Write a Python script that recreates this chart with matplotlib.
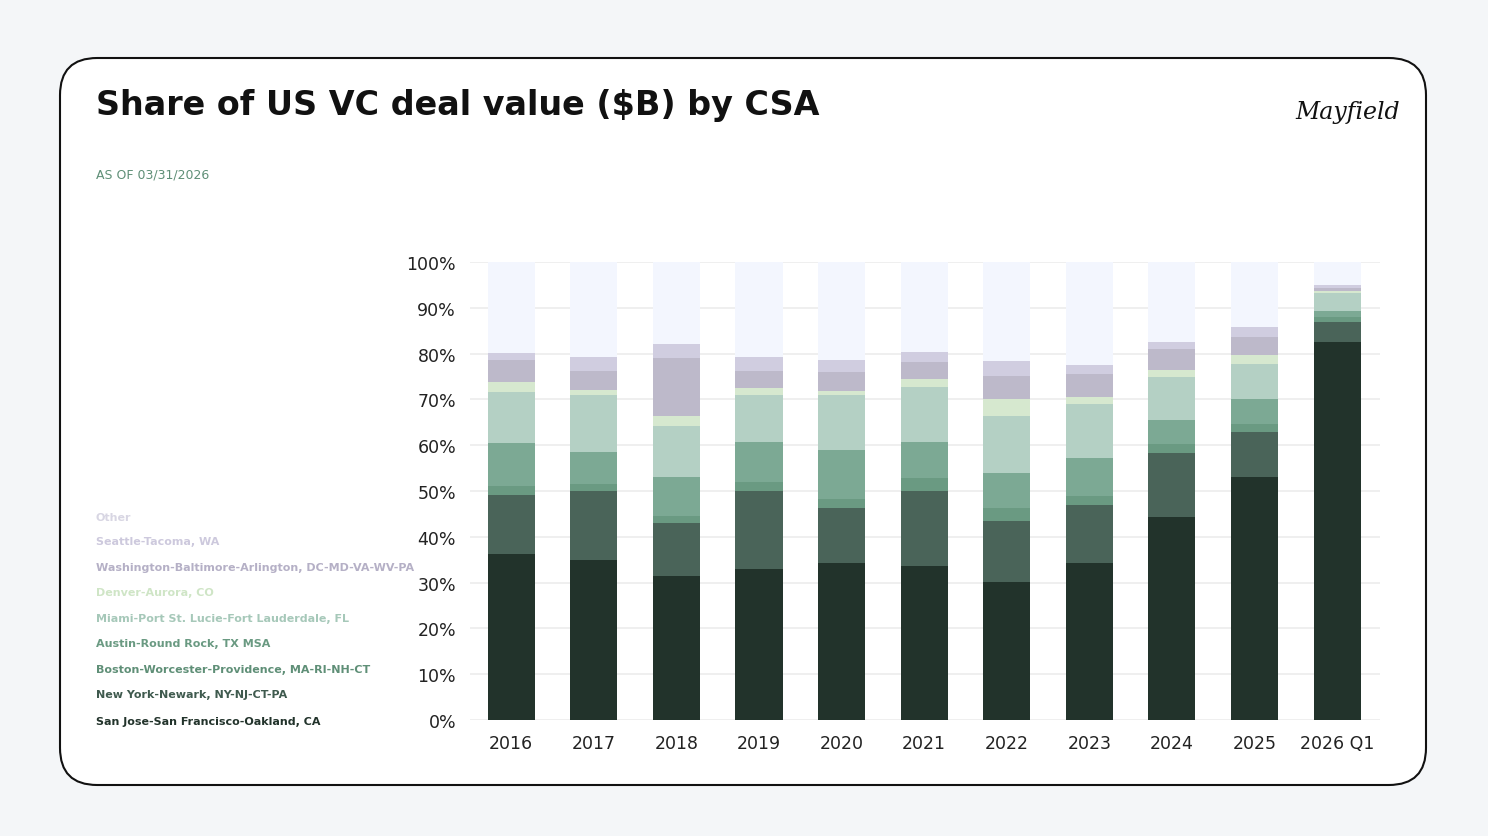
import matplotlib
matplotlib.use("Agg")
import matplotlib.pyplot as plt
from matplotlib.patches import FancyBboxPatch
import numpy as np

years = ["2016","2017","2018","2019","2020","2021","2022","2023","2024","2025","2026 Q1"]
series = ["San Jose-San Francisco-Oakland, CA","New York-Newark, NY-NJ-CT-PA",
          "Boston-Worcester-Providence, MA-RI-NH-CT","Austin-Round Rock, TX MSA",
          "Miami-Port St. Lucie-Fort Lauderdale, FL","Denver-Aurora, CO",
          "Washington-Baltimore-Arlington, DC-MD-VA-WV-PA","Seattle-Tacoma, WA","Other"]
sj    = [36.2,34.9,31.4,33.0,34.3,33.6,30.1,34.3,44.3,53.0,82.6]
ny    = [13.0,15.2,11.6,16.9,11.9,16.3,13.4,12.6,13.9,9.9,4.2]
bos   = [1.8,1.4,1.5,2.1,2.1,2.9,2.7,1.9,2.1,1.8,1.1]
aus   = [9.5,7.1,8.6,8.6,10.7,8.0,7.8,8.5,5.1,5.4,1.4]
mia   = [11.2,12.4,11.2,10.4,12.0,11.9,12.4,11.8,9.4,7.6,4.0]
den   = [2.0,1.1,2.0,1.5,0.9,1.7,3.6,1.4,1.6,2.0,0.4]
was   = [4.8,4.0,12.7,3.8,4.1,3.8,5.1,5.1,4.6,4.0,0.6]
sea   = [1.6,3.2,3.2,3.0,2.7,2.1,3.2,1.9,1.6,2.2,0.7]
other = [19.9,20.7,17.8,20.7,21.3,19.7,21.7,22.5,17.4,14.1,5.0]
data = [sj,ny,bos,aus,mia,den,was,sea,other]
colors = ["#22332b","#4a6459","#6a9a82","#7ca994","#b4d0c4","#d6e8cf","#bdb9ca","#d0cde0","#f3f6fe"]
legend_colors = ["#22332b","#3f5a4e","#5f8f77","#6a9a82","#a6c8b9","#cfe5c6","#b5b0c6","#cdc9dd","#d8d6e3"]

fig = plt.figure(figsize=(14.88,8.37), dpi=100)
fig.patch.set_facecolor("#f4f6f8")
card = FancyBboxPatch((60/1488, 1-786/837), 1366/1488, 727/837,
                      boxstyle="round,pad=0,rounding_size=0.025", transform=fig.transFigure,
                      facecolor="white", edgecolor="#111111", linewidth=1.5,
                      mutation_aspect=1488/837, zorder=-10)
fig.patches.append(card)

fig.text(96/1488, 1-105/837, "Share of US VC deal value ($B) by CSA", fontsize=24,
         fontweight="bold", va="center", ha="left", color="#111111")
fig.text(96/1488, 1-175/837, "AS OF 03/31/2026", fontsize=9, color="#5f8f77", va="center")
fig.text(1400/1488, 1-113/837, "Mayfield", fontsize=17, style="italic", family="DejaVu Serif",
         ha="right", va="center", color="#111111")

ax = fig.add_axes([470/1488, 1-721/837, 910/1488, 458/837])
ax.set_zorder(1)
ax.patch.set_alpha(0)
x = np.arange(len(years))
bottom = np.zeros(len(years))
for vals, c in zip(data, colors):
    ax.bar(x, vals, bottom=bottom, width=0.57, color=c, zorder=3)
    bottom += np.array(vals)
ax.set_xlim(-0.5, len(years)-0.5+0.02)
ax.set_ylim(0, 100)
ax.set_yticks(range(0,101,10))
ax.set_yticklabels([f"{v}%" for v in range(0,101,10)], fontsize=12.5, color="#222222")
ax.set_xticks(x)
ax.set_xticklabels(years, fontsize=12.5, color="#222222")
ax.grid(axis="y", color="#ececec", linewidth=1.2, zorder=0)
for s in ax.spines.values():
    s.set_visible(False)
ax.tick_params(length=0, pad=10)

ys = [722,695,670,644,619,593,568,542,518]
for name, c, y in zip(series, legend_colors, ys):
    fig.text(96/1488, 1-y/837, name, fontsize=8, fontweight="bold", color=c, va="center")

fig.savefig("out.png", dpi=100, facecolor=fig.get_facecolor())
